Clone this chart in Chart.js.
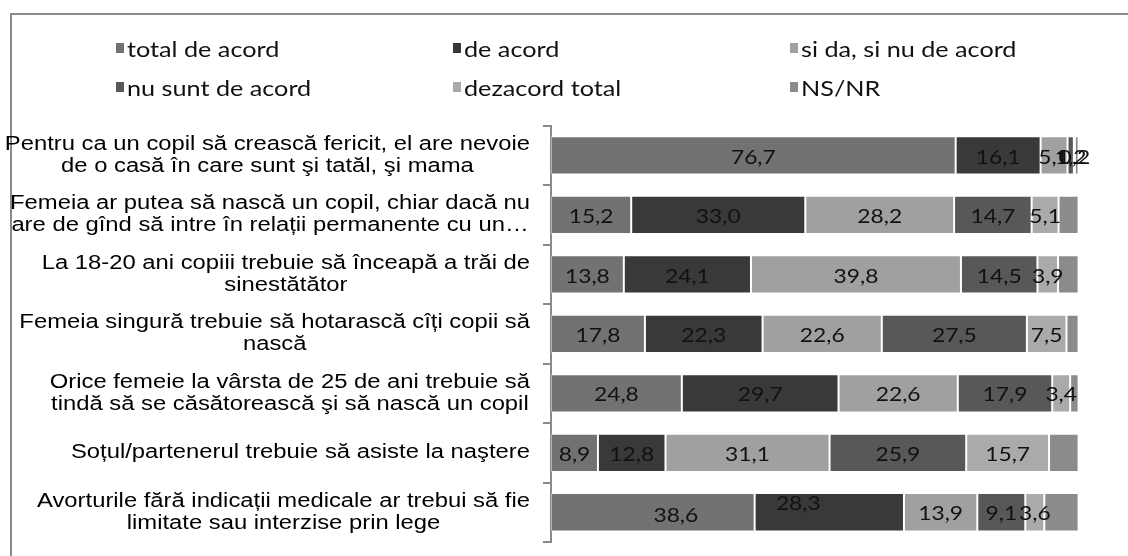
<!DOCTYPE html>
<html>
<head>
<meta charset="utf-8">
<script src="https://cdn.jsdelivr.net/npm/chart.js@4.4.0/dist/chart.umd.min.js"></script>
<style>
  html, body { margin: 0; padding: 0; background: #fff; }
  #wrap { position: relative; width: 1128px; height: 556px; overflow: hidden; }
  #frame { position: absolute; left: 10px; top: 13px; width: 1200px; height: 600px;
           border-top: 2px solid #8a8a8a; border-left: 2px solid #8a8a8a; }
  canvas { position: absolute; left: 0; top: 0; }
  .item { position: absolute; display: flex; align-items: center; height: 20px;
          color: #111; white-space: nowrap; }
  .item i { display: inline-block; width: 8px; height: 10px; margin-right: 3px; }
  .item span { display: inline-block; font-family: Lato, sans-serif; font-size: 21px;
               transform: scaleX(1.2); transform-origin: left center; }
</style>
</head>
<body>
<div id="wrap">
  <div id="frame"></div>
  <canvas id="chart" width="1128" height="556"></canvas>
  <div id="legend"></div>
</div>
<script>
// categories (each entry = wrapped lines, as in the original)
const categories = [
    ["Pentru ca un copil să crească fericit, el are nevoie", "de o casă în care sunt şi tatăl, şi mama"],
    ["Femeia ar putea să nască un copil, chiar dacă nu", "are de gînd să intre în relații permanente cu un…"],
    ["La 18-20 ani copiii trebuie să înceapă a trăi de", "sinestătător"],
    ["Femeia singură trebuie să hotarască cîți copii să", "nască"],
    ["Orice femeie la vârsta de 25 de ani trebuie să", "tindă să se căsătorească şi să nască un copil"],
    ["Soțul/partenerul trebuie să asiste la naştere"],
    ["Avorturile fără indicații medicale ar trebui să fie", "limitate sau interzise prin lege"]
];

const seriesNames = ["total de acord", "de acord", "si da, si nu de acord", "nu sunt de acord", "dezacord total", "NS/NR"];

const totalDeAcord = [76.7, 15.2, 13.8, 17.8, 24.8, 8.9, 38.6];
const deAcord      = [16.1, 33.0, 24.1, 22.3, 29.7, 12.8, 28.3];
const siDaSiNu     = [5.1, 28.2, 39.8, 22.6, 22.6, 31.1, 13.9];
const nuSuntDeAcord = [1.2, 14.7, 14.5, 27.5, 17.9, 25.9, 9.1];
const dezacordTotal = [0.2, 5.1, 3.9, 7.5, 3.4, 15.7, 3.6];
const nsNr          = [0.7, 3.8, 3.9, 2.3, 1.6, 5.6, 6.5];

const seriesColors = ["#727272", "#393939", "#a0a0a0", "#585858", "#aaaaaa", "#8b8b8b"];

// a couple of labels were moved by hand in the original
const labelNudges = { "0-6": [23, 2], "1-6": [-31, -10] };

// the source picture is stretched sideways, so text is too
const TEXT_SX = 1.2;

const allSeries = [totalDeAcord, deAcord, siDaSiNu, nuSuntDeAcord, dezacordTotal, nsNr];

const datasets = allSeries.map((values, i) => ({
    label: seriesNames[i],
    data: values,
    backgroundColor: seriesColors[i],
    borderColor: "rgba(255,255,255,0.35)",
    borderWidth: 1,
    borderSkipped: false,
    showLabels: i < 5
}));

// value labels in the middle of each segment
const valueLabels = {
    id: "valueLabels",
    afterDatasetsDraw(chart) {
        const ctx = chart.ctx;
        chart.data.datasets.forEach((ds, di) => {
            if (!ds.showLabels) return;
            chart.getDatasetMeta(di).data.forEach((bar, i) => {
                const n = labelNudges[di + "-" + i] || [0, 0];
                const txt = ds.data[i].toFixed(1).replace(".", ",");
                ctx.save();
                ctx.font = "19px Lato, sans-serif";
                ctx.fillStyle = "#111";
                ctx.textAlign = "center";
                ctx.textBaseline = "middle";
                ctx.translate((bar.x + bar.base) / 2 + n[0], bar.y + 2 + n[1]);
                ctx.scale(TEXT_SX, 1);
                ctx.fillText(txt, 0, 0);
                ctx.restore();
            });
        });
    }
};

// category text: lines centred to each other, block right-aligned to the axis
const categoryLabels = {
    id: "categoryLabels",
    afterDraw(chart) {
        const scale = chart.scales.y;
        const ctx = chart.ctx;
        ctx.save();
        ctx.font = '20px "Liberation Sans", Arial, sans-serif';
        ctx.fillStyle = "#000";
        ctx.textAlign = "center";
        ctx.textBaseline = "middle";
        chart.data.labels.forEach((lines, i) => {
            const w = Math.max(...lines.map(l => ctx.measureText(l).width)) * 1.19;
            const cx = scale.right - 21 - w / 2;
            const cy = scale.getPixelForTick(i);
            lines.forEach((l, k) => {
                ctx.save();
                ctx.translate(cx, cy + (k - (lines.length - 1) / 2) * 22);
                ctx.scale(1.19, 1);
                ctx.fillText(l, 0, 0);
                ctx.restore();
            });
        });
        ctx.restore();
    }
};

const chart = new Chart(document.getElementById("chart"), {
    type: "bar",
    data: { labels: categories, datasets: datasets },
    options: {
        indexAxis: "y",
        responsive: false,
        devicePixelRatio: 1,
        animation: false,
        barPercentage: 0.644,
        categoryPercentage: 1,
        layout: { padding: { top: 125.7, bottom: 14, left: 0, right: 49.4 } },
        plugins: { legend: { display: false }, tooltip: { enabled: false } },
        scales: {
            x: { stacked: true, min: 0, max: 100, display: false },
            y: {
                stacked: true,
                ticks: { display: false },
                grid: { drawOnChartArea: false, drawTicks: true, tickLength: 8, color: "#8a8a8a", lineWidth: 2, offset: true },
                border: { display: true, color: "#8a8a8a", width: 2 },
                afterFit: (scale) => { scale.width = 551; }
            }
        }
    },
    plugins: [valueLabels, categoryLabels]
});

// legend: 3 columns x 2 rows like the original
const legendCols = [116, 453, 790];
const legendRows = [38, 77];
const legendEl = document.getElementById("legend");
chart.data.datasets.forEach((ds, i) => {
    const item = document.createElement("div");
    item.className = "item";
    item.style.left = legendCols[i % 3] + "px";
    item.style.top = legendRows[Math.floor(i / 3)] + "px";
    item.innerHTML = '<i style="background:' + ds.backgroundColor + '"></i><span>' + ds.label + '</span>';
    legendEl.appendChild(item);
});
</script>
</body>
</html>
